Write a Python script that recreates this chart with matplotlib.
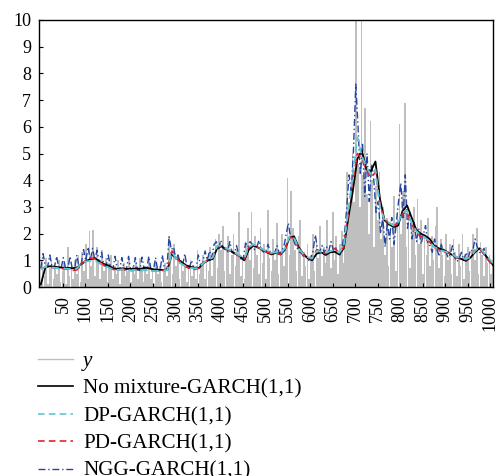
import numpy as np
import matplotlib
matplotlib.use("Agg")
import matplotlib.pyplot as plt
from matplotlib.lines import Line2D

# ---------------- data ----------------
# observed series y (every ~4th observation)
y_obs = [
    0.2, 0.9, 0.4, 1.1, 0.1, 0.7, 1.0, 0.3, 0.8, 0.5,
    1.0, 0.2, 0.6, 0.9, 0.1, 1.5, 0.4, 0.8, 0.3, 1.0,
    0.5, 1.2, 0.2, 1.3, 0.6, 1.6, 0.3, 2.1, 0.8, 2.15,
    0.4, 1.5, 1.0, 0.3, 1.4, 0.6, 1.1, 0.2, 0.9, 1.2,
    0.3, 0.8, 0.5, 1.0, 0.1, 0.7, 0.9, 0.4, 0.6, 1.0,
    0.2, 0.8, 0.5, 0.9, 0.3, 1.1, 0.6, 0.2, 0.8, 0.5,
    1.0, 0.3, 0.7, 0.1, 0.9, 0.5, 0.8, 0.2, 0.6, 0.9,
    0.4, 1.9, 1.3, 0.5, 1.6, 0.8, 1.2, 0.3, 1.0, 0.6,
    0.9, 0.2, 0.8, 1.0, 0.4, 0.7, 0.3, 1.4, 0.5, 0.9,
    1.2, 0.3, 1.1, 0.6, 1.5, 0.4, 1.3, 1.8, 0.7, 2.0,
    1.4, 2.3, 0.6, 1.5, 1.9, 0.5, 1.2, 2.0, 0.8, 1.4,
    2.8, 0.4, 1.1, 0.3, 1.6, 2.2, 1.0, 2.8, 0.7, 1.9,
    1.2, 0.5, 2.2, 0.9, 1.6, 0.3, 2.9, 1.1, 0.6, 1.8,
    1.0, 2.4, 0.5, 1.3, 2.0, 0.8, 1.6, 4.1, 1.2, 3.6,
    2.2, 1.4, 0.6, 1.9, 2.5, 0.4, 1.3, 0.8, 1.6, 0.3,
    1.2, 2.0, 0.6, 1.8, 1.1, 2.3, 0.4, 1.5, 0.9, 2.5,
    1.3, 0.7, 2.8, 1.0, 1.9, 0.5, 1.6, 2.1, 0.9, 2.0,
    4.3, 2.8, 3.5, 5.0, 3.2, 12.0, 4.6, 3.0, 12.0, 4.2,
    6.7, 3.5, 2.0, 6.2, 4.0, 1.5, 3.8, 2.5, 4.3, 1.8,
    3.0, 1.2, 2.6, 0.8, 2.2, 1.5, 3.4, 0.6, 2.8, 6.1,
    2.0, 3.6, 6.9, 1.5, 2.6, 0.7, 2.2, 3.0, 1.2, 3.3,
    1.6, 2.5, 0.5, 2.0, 1.2, 2.6, 0.8, 1.9, 1.0, 2.3,
    3.0, 0.7, 1.8, 1.2, 0.4, 2.0, 1.0, 1.6, 0.5, 1.8,
    1.3, 0.4, 1.6, 0.8, 2.0, 0.3, 1.2, 1.5, 0.6, 1.4,
    2.0, 1.0, 2.2, 0.5, 1.7, 1.2, 0.4, 1.5, 0.9, 1.2,
    0.5, 1.0,
]

# No mixture-GARCH(1,1) (every ~10th time point)
no_mix = [
    0.10, 0.74, 0.78, 0.76, 0.74, 0.72, 0.72, 0.70, 0.74, 0.86,
    0.98, 1.04, 1.08, 0.94, 0.86, 0.80, 0.70, 0.68, 0.70, 0.68,
    0.68, 0.70, 0.68, 0.72, 0.70, 0.66, 0.65, 0.64, 0.66, 1.22,
    1.08, 0.95, 0.82, 0.76, 0.72, 0.72, 0.90, 1.00, 1.05, 1.45,
    1.52, 1.42, 1.35, 1.25, 1.15, 1.00, 1.40, 1.55, 1.48, 1.40,
    1.30, 1.22, 1.28, 1.22, 1.40, 1.85, 1.90, 1.50, 1.25, 1.08,
    1.00, 1.25, 1.30, 1.20, 1.30, 1.32, 1.22, 1.45, 2.60, 3.60,
    4.80, 5.10, 4.40, 4.35, 4.70, 3.30, 2.50, 2.35, 2.25, 2.30,
    2.85, 3.05, 2.60, 2.15, 2.00, 1.92, 1.80, 1.55, 1.45, 1.40,
    1.30, 1.20, 1.10, 1.05, 0.98, 1.10, 1.30, 1.45, 1.25, 1.05,
    0.82,
]

# DP-GARCH(1,1)
dp = [
    0.66, 0.76, 0.74, 0.72, 0.70, 0.70, 0.68, 0.66, 0.70, 0.90,
    0.96, 0.98, 1.00, 0.88, 0.80, 0.72, 0.66, 0.64, 0.66, 0.64,
    0.62, 0.64, 0.62, 0.64, 0.62, 0.60, 0.60, 0.62, 0.64, 1.30,
    1.05, 0.88, 0.78, 0.72, 0.70, 0.72, 0.92, 1.02, 1.10, 1.55,
    1.55, 1.45, 1.38, 1.28, 1.18, 1.08, 1.50, 1.60, 1.50, 1.42,
    1.32, 1.28, 1.30, 1.25, 1.45, 1.90, 1.85, 1.45, 1.25, 1.12,
    1.08, 1.35, 1.32, 1.28, 1.35, 1.38, 1.28, 1.55, 2.90, 4.20,
    5.60, 4.90, 4.50, 4.20, 4.40, 3.00, 2.50, 2.40, 2.30, 2.40,
    2.80, 2.85, 2.40, 2.10, 1.95, 1.85, 1.70, 1.50, 1.42, 1.35,
    1.30, 1.22, 1.12, 1.10, 1.05, 1.12, 1.35, 1.50, 1.28, 1.10,
    0.88,
]

# PD-GARCH(1,1)
pd_ = [
    0.68, 0.75, 0.74, 0.72, 0.70, 0.68, 0.66, 0.62, 0.64, 0.88,
    1.00, 1.08, 1.05, 0.92, 0.82, 0.74, 0.66, 0.64, 0.66, 0.64,
    0.62, 0.64, 0.62, 0.64, 0.62, 0.60, 0.60, 0.62, 0.64, 1.35,
    1.10, 0.90, 0.76, 0.68, 0.66, 0.70, 0.92, 1.00, 1.12, 1.50,
    1.52, 1.42, 1.35, 1.25, 1.15, 1.05, 1.48, 1.58, 1.48, 1.40,
    1.30, 1.25, 1.28, 1.22, 1.42, 1.88, 1.82, 1.45, 1.22, 1.08,
    1.05, 1.40, 1.30, 1.25, 1.35, 1.45, 1.28, 1.50, 2.80, 4.00,
    5.00, 4.80, 4.40, 4.10, 4.30, 3.10, 2.50, 2.40, 2.30, 2.40,
    2.75, 2.80, 2.35, 2.05, 1.90, 1.80, 1.68, 1.48, 1.40, 1.32,
    1.28, 1.20, 1.10, 1.08, 1.02, 1.15, 1.38, 1.45, 1.22, 1.00,
    0.75,
]

# NGG-GARCH(1,1) (every ~5th time point)
ngg = [
    0.70, 1.25, 0.78, 0.75, 1.20, 0.74, 0.72, 1.15, 0.72, 0.70,
    1.10, 0.70, 0.68, 1.15, 0.66, 0.65, 1.20, 0.72, 0.88, 1.40,
    0.98, 1.50, 1.00, 1.45, 1.02, 1.38, 0.90, 1.30, 0.80, 0.78,
    1.20, 0.70, 0.66, 1.15, 0.64, 0.64, 1.10, 0.66, 0.64, 1.15,
    0.62, 0.62, 1.10, 0.64, 0.62, 1.12, 0.64, 0.62, 1.15, 0.62,
    0.60, 1.10, 0.60, 0.62, 1.20, 0.62, 0.64, 1.90, 1.40, 1.50,
    1.05, 1.20, 0.88, 0.80, 1.25, 0.74, 0.70, 1.00, 0.70, 0.72,
    1.20, 0.80, 0.92, 1.35, 1.00, 1.35, 1.10, 1.60, 1.70, 1.40,
    1.75, 1.45, 1.40, 1.30, 1.70, 1.30, 1.25, 1.55, 1.18, 1.05,
    1.08, 1.65, 1.50, 1.70, 1.60, 1.40, 1.50, 1.75, 1.40, 1.30,
    1.32, 1.60, 1.28, 1.25, 1.30, 1.55, 1.25, 1.35, 1.50, 1.95,
    2.40, 1.85, 1.85, 1.60, 1.45, 1.30, 1.25, 1.10, 1.12, 1.00,
    1.08, 1.35, 1.95, 1.40, 1.32, 1.55, 1.28, 1.50, 1.35, 1.70,
    1.38, 1.50, 1.28, 1.20, 1.55, 2.00, 3.00, 4.20, 3.60, 5.20,
    7.60, 6.00, 4.20, 5.40, 3.40, 5.00, 3.20, 4.60, 4.00, 2.80,
    3.20, 2.00, 2.60, 1.50, 2.40, 1.80, 2.60, 1.60, 2.40, 3.20,
    3.90, 2.60, 4.20, 2.20, 2.80, 1.80, 2.40, 1.70, 2.20, 1.60,
    1.95, 2.30, 1.60, 1.55, 1.30, 1.80, 1.42, 1.20, 1.60, 1.30,
    1.35, 1.10, 1.25, 1.55, 1.10, 0.95, 1.10, 1.30, 1.00, 1.30,
    1.10, 1.40, 1.35, 1.80, 1.50, 1.30, 1.25, 1.45, 1.10, 1.00,
    0.90, 0.82,
]

x_ticks = list(range(50, 1001, 50))
y_ticks = list(range(0, 11))
labels = ["y", "No mixture-GARCH(1,1)", "DP-GARCH(1,1)", "PD-GARCH(1,1)", "NGG-GARCH(1,1)"]

T_START, T_END = 1, 1006

GRAY = "#bfbfbf"
BLACK = "black"
CYAN = "#5cc8d6"
RED = "#e8202a"
BLUE = "#2545a0"
LS_DASH = (0, (4, 2.5))
LS_DASHDOT = (0, (5, 2, 1, 2))

# ---------------- figure ----------------
plt.rcParams['font.family'] = ['Liberation Serif', 'DejaVu Serif']
fig = plt.figure(figsize=(4.96, 4.76), dpi=100)
ax = fig.add_axes([0.0796, 0.397, 0.994 - 0.0796, 0.958 - 0.397])

def grid(n):
    return np.linspace(T_START, T_END, n)

xg = grid(len(y_obs))
ax.bar(xg, y_obs, width=(xg[1] - xg[0]) * 0.92, color=GRAY, linewidth=0, zorder=1)
ax.plot(grid(len(ngg)), ngg, color=BLUE, lw=1.0, ls=LS_DASHDOT, zorder=2)
ax.plot(grid(len(no_mix)), no_mix, color=BLACK, lw=1.3, zorder=3)
ax.plot(grid(len(pd_)), pd_, color=RED, lw=1.2, ls=LS_DASH, zorder=4)
ax.plot(grid(len(dp)), dp, color=CYAN, lw=1.3, ls=LS_DASH, zorder=5)

ax.set_xlim(-2, 1006)
ax.set_ylim(0, 10)
ax.set_xticks(x_ticks)
ax.set_xticklabels([str(v) for v in x_ticks], rotation=90, fontsize=13)
ax.set_yticks(y_ticks)
ax.set_yticklabels([str(v) for v in y_ticks], fontsize=13)
ax.tick_params(axis='both', direction='in', length=3, width=0.8, pad=6)
for s in ax.spines.values():
    s.set_linewidth(1.0)

handles = [
    Line2D([], [], color=GRAY, lw=1.0),
    Line2D([], [], color=BLACK, lw=1.2),
    Line2D([], [], color=CYAN, lw=1.2, ls=LS_DASH),
    Line2D([], [], color=RED, lw=1.2, ls=LS_DASH),
    Line2D([], [], color=BLUE, lw=1.0, ls=LS_DASHDOT),
]
leg = fig.legend(handles, labels,
                 loc='upper left', bbox_to_anchor=(0.059, 0.279), frameon=False,
                 fontsize=15.2, handlelength=1.68, handletextpad=0.47, labelspacing=0.36,
                 borderaxespad=0)
leg.get_texts()[0].set_fontstyle('italic')

fig.savefig("out.png", dpi=100)
